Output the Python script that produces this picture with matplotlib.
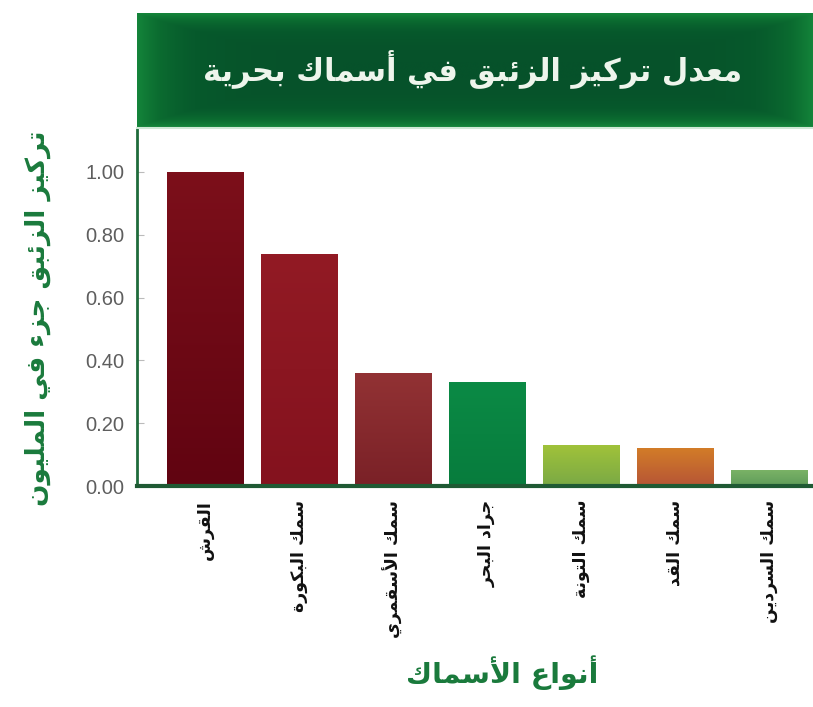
import numpy as np
import matplotlib
matplotlib.use("Agg")
import matplotlib.pyplot as plt
from matplotlib.colors import LinearSegmentedColormap

# ---------------- data ----------------
categories = ["القرش", "سمك البكورة", "سمك الأسقمري", "جراد البحر",
              "سمك التونة", "سمك القد", "سمك السردين"]
values = [1.00, 0.74, 0.36, 0.33, 0.13, 0.12, 0.05]
bar_top_colors = ["#7c0f1a", "#921a24", "#923234", "#0b8a45",
                  "#a0c23a", "#d27c28", "#7ab266"]
bar_bottom_colors = ["#610411", "#84121e", "#7a2127", "#077c3d",
                     "#7aa945", "#b65536", "#5f9c5a"]
yticks = [0.0, 0.2, 0.4, 0.6, 0.8, 1.0]
ytick_labels = ["0.00", "0.20", "0.40", "0.60", "0.80", "1.00"]
title = "معدل تركيز الزئبق في أسماك بحرية"
ylabel = "تركيز الزئبق جزء في المليون"
xlabel = "أنواع الأسماك"

# ------------- minimal Arabic shaping (presentation forms) -------------
FORMS = {
    'ء': (0xFE80, None, None, None),
    'آ': (0xFE81, 0xFE82, None, None),
    'أ': (0xFE83, 0xFE84, None, None),
    'ؤ': (0xFE85, 0xFE86, None, None),
    'إ': (0xFE87, 0xFE88, None, None),
    'ئ': (0xFE89, 0xFE8A, 0xFE8B, 0xFE8C),
    'ا': (0xFE8D, 0xFE8E, None, None),
    'ب': (0xFE8F, 0xFE90, 0xFE91, 0xFE92),
    'ة': (0xFE93, 0xFE94, None, None),
    'ت': (0xFE95, 0xFE96, 0xFE97, 0xFE98),
    'ث': (0xFE99, 0xFE9A, 0xFE9B, 0xFE9C),
    'ج': (0xFE9D, 0xFE9E, 0xFE9F, 0xFEA0),
    'ح': (0xFEA1, 0xFEA2, 0xFEA3, 0xFEA4),
    'خ': (0xFEA5, 0xFEA6, 0xFEA7, 0xFEA8),
    'د': (0xFEA9, 0xFEAA, None, None),
    'ذ': (0xFEAB, 0xFEAC, None, None),
    'ر': (0xFEAD, 0xFEAE, None, None),
    'ز': (0xFEAF, 0xFEB0, None, None),
    'س': (0xFEB1, 0xFEB2, 0xFEB3, 0xFEB4),
    'ش': (0xFEB5, 0xFEB6, 0xFEB7, 0xFEB8),
    'ص': (0xFEB9, 0xFEBA, 0xFEBB, 0xFEBC),
    'ض': (0xFEBD, 0xFEBE, 0xFEBF, 0xFEC0),
    'ط': (0xFEC1, 0xFEC2, 0xFEC3, 0xFEC4),
    'ظ': (0xFEC5, 0xFEC6, 0xFEC7, 0xFEC8),
    'ع': (0xFEC9, 0xFECA, 0xFECB, 0xFECC),
    'غ': (0xFECD, 0xFECE, 0xFECF, 0xFED0),
    'ف': (0xFED1, 0xFED2, 0xFED3, 0xFED4),
    'ق': (0xFED5, 0xFED6, 0xFED7, 0xFED8),
    'ك': (0xFED9, 0xFEDA, 0xFEDB, 0xFEDC),
    'ل': (0xFEDD, 0xFEDE, 0xFEDF, 0xFEE0),
    'م': (0xFEE1, 0xFEE2, 0xFEE3, 0xFEE4),
    'ن': (0xFEE5, 0xFEE6, 0xFEE7, 0xFEE8),
    'ه': (0xFEE9, 0xFEEA, 0xFEEB, 0xFEEC),
    'و': (0xFEED, 0xFEEE, None, None),
    'ى': (0xFEEF, 0xFEF0, None, None),
    'ي': (0xFEF1, 0xFEF2, 0xFEF3, 0xFEF4),
}
LAMALEF = {'آ': (0xFEF5, 0xFEF6), 'أ': (0xFEF7, 0xFEF8),
           'إ': (0xFEF9, 0xFEFA), 'ا': (0xFEFB, 0xFEFC)}


def shape(text):
    units = []
    i = 0
    while i < len(text):
        c = text[i]
        if c == 'ل' and i + 1 < len(text) and text[i + 1] in LAMALEF:
            units.append(('LA', text[i + 1]))
            i += 2
        else:
            units.append(('C', c))
            i += 1

    def joins_back(u):
        if u[0] == 'LA':
            return True
        return u[1] in FORMS and FORMS[u[1]][1] is not None

    def joins_fwd(u):
        if u[0] == 'LA':
            return False
        return u[1] in FORMS and FORMS[u[1]][2] is not None

    out = []
    for k, u in enumerate(units):
        prev = units[k - 1] if k > 0 else None
        nxt = units[k + 1] if k + 1 < len(units) else None
        jp = prev is not None and joins_fwd(prev) and joins_back(u)
        jn = nxt is not None and joins_fwd(u) and joins_back(nxt)
        if u[0] == 'LA':
            iso, fin = LAMALEF[u[1]]
            out.append(chr(fin if jp else iso))
            continue
        c = u[1]
        if c not in FORMS:
            out.append(c)
            continue
        iso, fin, ini, med = FORMS[c]
        if jp and jn:
            out.append(chr(med))
        elif jp:
            out.append(chr(fin))
        elif jn:
            out.append(chr(ini))
        else:
            out.append(chr(iso))
    return ''.join(out)[::-1]


# ---------------- figure ----------------
W, H = 813, 707
fig = plt.figure(figsize=(W / 100, H / 100), dpi=100)
fig.patch.set_facecolor("white")

ax_left = 137 / W
ax = fig.add_axes([ax_left, 1 - 486 / H, 1 - ax_left, (486 - 128) / H])

x = np.arange(len(categories))
bars = ax.bar(x, values, width=0.81, color=bar_top_colors, zorder=2)
ax.set_xlim(-0.72, len(categories) - 0.53)
ax.set_ylim(0, 1.14)

# vertical gradient inside each bar, clipped to the bar patch
for b, ctop, cbot in zip(bars, bar_top_colors, bar_bottom_colors):
    bx, by = b.get_x(), b.get_y()
    bw, bh = b.get_width(), b.get_height()
    cm = LinearSegmentedColormap.from_list("g", [cbot, ctop])
    grad = np.linspace(1, 0, 64).reshape(-1, 1)
    im = ax.imshow(grad, cmap=cm, vmin=0, vmax=1, aspect="auto",
                   extent=[bx, bx + bw, by, by + bh], zorder=3,
                   interpolation="bilinear")
    im.set_clip_path(b)
ax.set_xlim(-0.72, len(categories) - 0.53)
ax.set_ylim(0, 1.14)

ax.set_yticks(yticks)
ax.set_yticklabels(ytick_labels, family="Liberation Sans", fontsize=14.5,
                   color="#5e5e5e")
ax.tick_params(axis="y", direction="in", length=5, width=0.8,
               color="#bbbbbb", pad=9)
ax.set_xticks(x)
ax.set_xticklabels([shape(c) for c in categories], rotation=90,
                   family="DejaVu Sans", fontweight="bold", fontsize=12.5,
                   color="#111111", va="top")
ax.tick_params(axis="x", length=0, pad=10)

for s in ["top", "right"]:
    ax.spines[s].set_visible(False)
ax.spines["left"].set_color("#1f6b3b")
ax.spines["left"].set_linewidth(2.0)
ax.spines["bottom"].set_color("#1f5a34")
ax.spines["bottom"].set_linewidth(3.0)
ax.spines["bottom"].set_zorder(4)

fig.text(38 / W, 1 - 318 / H, shape(ylabel), rotation=90, ha="center",
         va="center", fontsize=19, fontweight="bold", color="#1a7a3c",
         family="DejaVu Sans")
fig.text(502 / W, 1 - 673 / H, shape(xlabel), ha="center", va="center",
         fontsize=20.5, fontweight="bold", color="#1a7a3c",
         family="DejaVu Sans")

# ---------------- banner ----------------
bax = fig.add_axes([ax_left, 1 - 127 / H, 1 - ax_left, (127 - 13) / H])
bax.set_axis_off()
gy, gx = np.mgrid[-1:1:120j, -1:1:400j]
d = np.maximum(np.abs(gx) ** 6, np.abs(gy) ** 3)
cmap = LinearSegmentedColormap.from_list(
    "ban", ["#06522a", "#075a2c", "#0b6b30", "#14843a"])
bax.imshow(d, cmap=cmap, aspect="auto", extent=[0, 1, 0, 1],
           interpolation="bilinear")
bax.set_xlim(0, 1)
bax.set_ylim(0, 1)
bax.text(0.497, 0.5, shape(title), ha="center", va="center", fontsize=22,
         fontweight="bold", color="#eef5ec", family="DejaVu Sans")
fig.add_artist(plt.Line2D([ax_left, 1], [1 - 128 / H, 1 - 128 / H],
                          color="#cfe9d6", lw=1.5))

fig.savefig("out.png", dpi=100, facecolor="white")
